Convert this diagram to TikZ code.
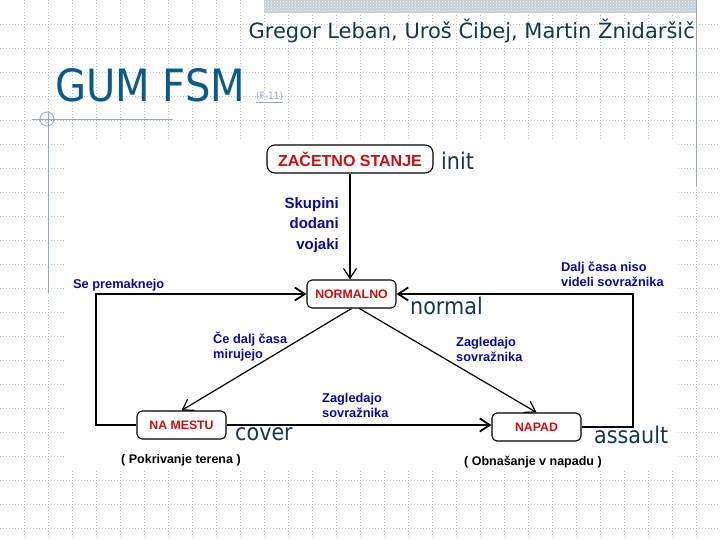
\documentclass[tikz,border=0pt]{standalone}
\usepackage{fontspec}
\usetikzlibrary{arrows.meta,patterns}
\newfontfamily\arialf{Liberation Sans}
\newfontfamily\tahf[FakeStretch=0.9]{DejaVu Sans}
\newfontfamily\verdf{DejaVu Sans}
\definecolor{gridc}{HTML}{B8C4CC}
\definecolor{titlec}{HTML}{17374A}
\definecolor{gumc}{HTML}{0E5A86}
\definecolor{rulec}{HTML}{98A8B8}
\definecolor{redc}{HTML}{C81010}
\definecolor{bluec}{HTML}{0A0A96}
\definecolor{barc}{HTML}{C4CCD4}
\tikzset{
  gridline/.style={draw=gridc, line width=0.7pt, dash pattern=on 1pt off 2pt},
  statebox/.style={draw=black, line width=1.1pt, fill=white, rounded corners=5pt,
    minimum width=89pt, minimum height=28pt, inner sep=0pt, text=redc,
    font=\arialf\bfseries\fontsize{12.3}{14}\selectfont},
  bigstate/.style={statebox, minimum width=166pt, rounded corners=8pt,
    font=\arialf\bfseries\fontsize{16}{18}\selectfont},
  lbl/.style={text=bluec, inner sep=0pt, align=left,
    font=\arialf\bfseries\fontsize{12.8}{15}\selectfont},
  sublbl/.style={text=black, inner sep=0pt,
    font=\arialf\bfseries\fontsize{12.5}{15}\selectfont},
  tname/.style={text=titlec, inner sep=0pt, anchor=base west,
    font=\tahf\fontsize{23}{26}\selectfont},
  conn/.style={draw=black, line width=1.2pt, -{Straight Barb[length=10pt,width=13pt]}},
  loopc/.style={conn, line width=1.8pt},
}
\begin{document}
\begin{tikzpicture}[x=1pt,y=-1pt]
\useasboundingbox (0,0) rectangle (720,540);
\fill[white] (0,0) rectangle (720,540);
% grid
\foreach \x in {24,48,...,696} \draw[gridline] (\x,0) -- (\x,540);
\foreach \y in {24,48,...,528} \draw[gridline] (0,\y) -- (720,\y);
% top bar
\fill[barc] (264,0) rectangle (696,13);
\fill[pattern=crosshatch dots, pattern color=white] (264,0) rectangle (696,13);
\draw[rulec, line width=1pt] (696,0) -- (696,186);
% left decoration
\draw[rulec, line width=1pt] (32,120) -- (173,120);
\draw[rulec, line width=1pt] (48,112) -- (48,293);
\draw[rulec, line width=0.8pt] (47,119) circle (7);
% titles
\node[text=titlec, inner sep=0pt, anchor=base east, font=\verdf\fontsize{21}{24}\selectfont] (title) at (695,39) {Gregor Leban, Uroš Čibej, Martin Žnidaršič};
\node[text=gumc, inner sep=0pt, anchor=base west, font=\tahf\fontsize{44.5}{50}\selectfont] (gum) at (55,102) {GUM FSM};
\node[text=rulec, inner sep=0pt, anchor=base west, font=\tahf\fontsize{10}{12}\selectfont] (f11) at (256,100) {(F-11)};
\draw[rulec, line width=1.2pt] (f11.south west) ++(0,1) -- ([yshift=-1pt]f11.south east);
% diagram area
\fill[white] (65,140) rectangle (678,470);
% states
\node[bigstate] (zs) at (350,159) {ZAČETNO STANJE};
\node[statebox] (nm) at (351.5,294) {NORMALNO};
\node[statebox] (nmst) at (181.5,425) {NA MESTU};
\node[statebox] (np) at (536.5,427) {NAPAD};
% loop corners
\coordinate (lc) at (96,300);
\coordinate (rc) at (633,300);
% connectors
\draw[conn] (zs.south) -- (zs.south |- nm.north);
\draw[loopc] (nmst.west) -- (nmst.west -| lc) -- (lc |- nm.west) -- (nm.west);
\draw[loopc] (np.east) -- (np.east -| rc) -- (rc |- nm.east) -- (nm.east);
\draw[conn] (nm.south) -- (nmst.north);
\draw[conn] ([xshift=8pt]nm.south) -- (np.north);
\draw[loopc] (nmst.east) -- (nmst.east -| np.west);
% edge labels
\node[lbl, align=right, anchor=east, font=\arialf\bfseries\fontsize{15}{20.5}\selectfont] (l1) at (339,225) {Skupini\\dodani\\vojaki};
\node[lbl, anchor=west] (l2) at (73,285) {Se premaknejo};
\node[lbl, anchor=west] (l3) at (213,346.5) {Če dalj časa\\mirujejo};
\node[lbl, anchor=west] (l4) at (456,349) {Zagledajo\\sovražnika};
\node[lbl, anchor=west] (l5) at (322,405) {Zagledajo\\sovražnika};
\node[lbl, anchor=west] (l6) at (561,274) {Dalj časa niso\\videli sovražnika};
\node[sublbl, anchor=west] (s1) at (121,460) {( Pokrivanje terena )};
\node[sublbl, anchor=west] (s2) at (464,462) {( Obnašanje v napadu )};
% state names
\node[tname] (tinit) at (441,170) {init};
\node[tname] (tnormal) at (410,314) {normal};
\node[tname] (tcover) at (235,440) {cover};
\node[tname] (tassault) at (594,443) {assault};
\end{tikzpicture}
\end{document}
